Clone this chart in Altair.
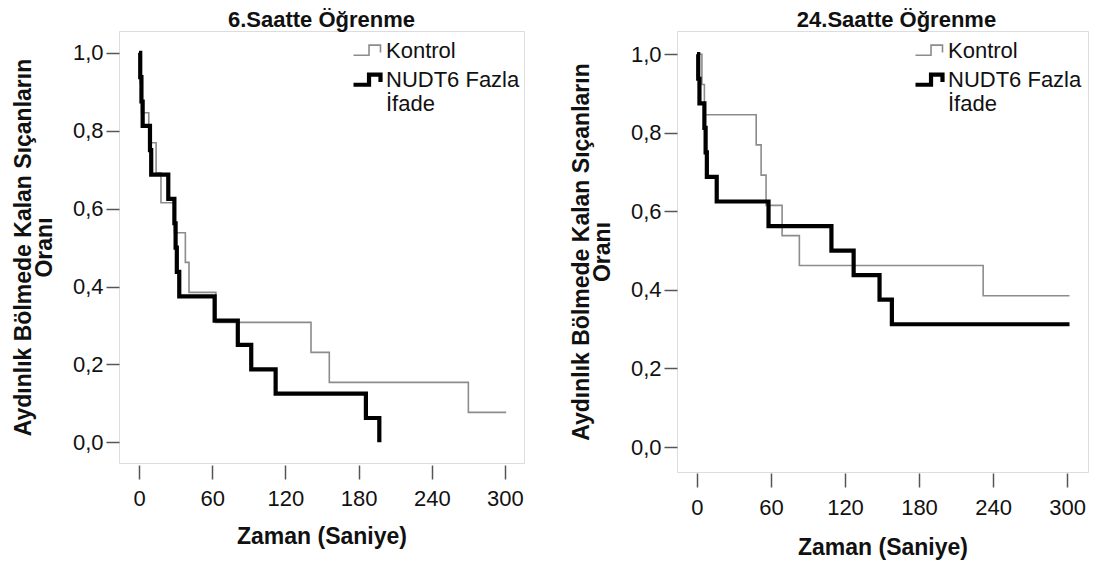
import altair as alt
import pandas as pd

FONT = "Liberation Sans"
groups = ["Kontrol", "NUDT6 Fazla İfade"]

# Panel 1: 6. saat
p1_title = "6.Saatte Öğrenme"
p1_ctrl_t = [0, 1, 2, 8, 14, 18, 29, 38, 41, 63, 141, 156, 270, 301]
p1_ctrl_s = [1.0, 0.923, 0.846, 0.769, 0.692, 0.615, 0.538, 0.462, 0.385, 0.308, 0.231, 0.154, 0.077, 0.077]
p1_nudt_t = [0, 1, 2, 3, 9, 10, 24, 29, 30, 31, 33, 62, 81, 92, 112, 186, 197]
p1_nudt_s = [1.0, 0.9375, 0.875, 0.8125, 0.75, 0.6875, 0.625, 0.5625, 0.5, 0.4375, 0.375,
             0.3125, 0.25, 0.1875, 0.125, 0.0625, 0.0]

# Panel 2: 24. saat
p2_title = "24.Saatte Öğrenme"
p2_ctrl_t = [0, 4, 6, 48, 52, 56, 69, 83, 232, 302]
p2_ctrl_s = [1.0, 0.923, 0.846, 0.769, 0.692, 0.615, 0.538, 0.462, 0.385, 0.385]
p2_nudt_t = [0, 1, 2, 6, 7, 8, 16, 58, 109, 127, 148, 158, 302]
p2_nudt_s = [1.0, 0.9375, 0.875, 0.8125, 0.75, 0.6875, 0.625, 0.5625, 0.5, 0.4375, 0.375, 0.3125, 0.3125]

x_ticks = [0, 60, 120, 180, 240, 300]
y_ticks = [0.0, 0.2, 0.4, 0.6, 0.8, 1.0]
y_title = ["Aydınlık Bölmede Kalan Sıçanların", "Oranı"]
x_title = "Zaman (Saniye)"

STEP = "M-1,0.35 L0.15,0.35 L0.15,-0.4 L1,-0.4 L1,0.15"


def panel(title, ct, cs, nt, ns, w, h, xdom, ydom, lx, ly, tdx, xoff, lpad, tpad, use_enc):
    df = pd.DataFrame({
        "t": ct + nt,
        "s": cs + ns,
        "grup": [groups[0]] * len(ct) + [groups[1]] * len(nt),
    })
    lkw = dict(
        title=None, orient="none", legendX=lx, legendY=ly,
        symbolType=STEP, symbolSize=729, symbolFillColor="transparent",
        labelFont=FONT, labelFontSize=22, labelColor="#111111", labelOffset=3,
        rowPadding=2, padding=0,
        labelExpr="datum.label == 'NUDT6 Fazla İfade' ? ['NUDT6 Fazla', 'İfade'] : datum.label",
    )
    if use_enc:
        lkw["rowPadding"] = 13
        lkw["encoding"] = {"labels": {"update": {"dy": {"signal": "datum.value == 'Kontrol' ? 0 : -11"}}}}
    legend = alt.Legend(**lkw)
    return alt.Chart(df).mark_line(interpolate="step-after").encode(
        x=alt.X("t:Q", scale=alt.Scale(domain=xdom, nice=False, zero=False),
                axis=alt.Axis(values=x_ticks, title=x_title, grid=False, domain=False,
                              offset=xoff, tickSize=14, tickColor="#555555", tickWidth=1.5,
                              labelFont=FONT, labelFontSize=22, labelColor="#111111",
                              labelPadding=lpad, titleFont=FONT, titleFontSize=23,
                              titleFontWeight="bold", titleColor="#111111", titlePadding=tpad)),
        y=alt.Y("s:Q", scale=alt.Scale(domain=ydom, nice=False, zero=False),
                axis=alt.Axis(values=y_ticks, title=y_title, grid=False, domain=False,
                              tickSize=13, tickColor="#555555", tickWidth=1.5,
                              labelFont=FONT, labelFontSize=22, labelColor="#111111",
                              labelPadding=3,
                              labelExpr="replace(format(datum.value, '.1f'), '.', ',')",
                              titleFont=FONT, titleFontSize=23, titleFontWeight="bold",
                              titleColor="#111111", titlePadding=16, titleLineHeight=21)),
        color=alt.Color("grup:N", scale=alt.Scale(domain=groups, range=["#8c8c8c", "#000000"]),
                        legend=legend),
        strokeWidth=alt.StrokeWidth("grup:N", scale=alt.Scale(domain=groups, range=[1.6, 4.2]),
                                    legend=legend),
    ).properties(
        width=w, height=h,
        title=alt.Title(title, font=FONT, fontSize=22, fontWeight="bold", color="#111111",
                        anchor="middle", offset=-1, dx=tdx),
    )


def build(use_enc):
    left = panel(p1_title, p1_ctrl_t, p1_ctrl_s, p1_nudt_t, p1_nudt_s, 405, 432,
                 [-16.4, 315.6], [-0.053, 1.056], 232, 5, 0, 2, 9, 16, use_enc)
    right = panel(p2_title, p2_ctrl_t, p2_ctrl_s, p2_nudt_t, p2_nudt_s, 411, 441,
                  [-16.2, 317], [-0.0636, 1.059], 236, 5, 14, 1, 10, 18, use_enc)
    return alt.hconcat(left, right, spacing=44).resolve_legend(
        color="independent", strokeWidth="independent"
    ).resolve_scale(color="independent", strokeWidth="independent").properties(
        padding={"left": 3, "top": 0, "right": 0, "bottom": 0}
    ).configure_view(stroke="#808080", strokeWidth=1.5).configure(background="white")


try:
    chart = build(True)
    chart.to_dict()
except Exception:
    chart = build(False)

chart.save("out.html", embed_options={"renderer": "svg", "actions": False})
